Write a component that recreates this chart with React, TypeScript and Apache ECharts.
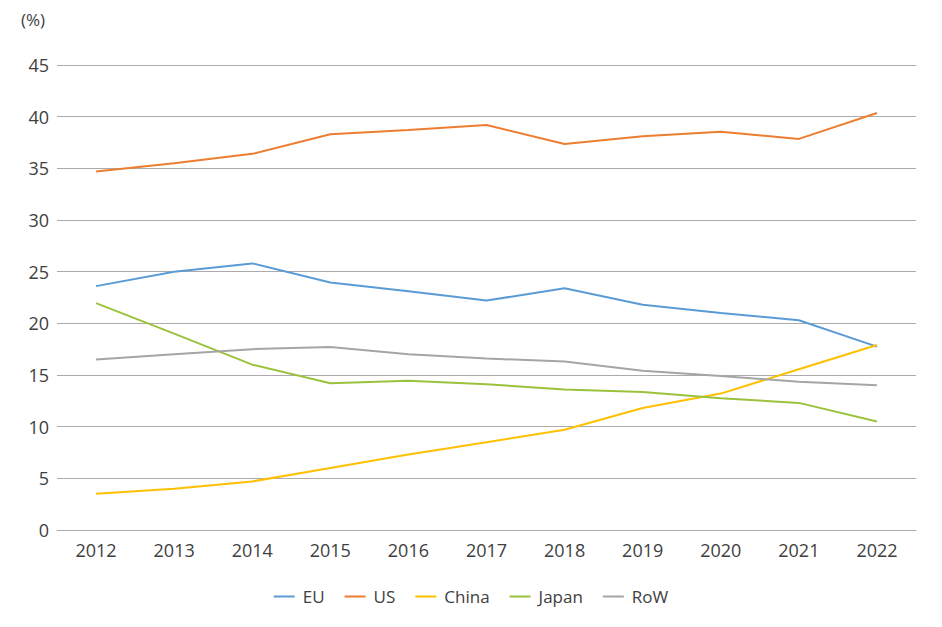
import React, { useEffect, useRef } from "react";
import * as echarts from "echarts";

const years = ["2012", "2013", "2014", "2015", "2016", "2017", "2018", "2019", "2020", "2021", "2022"];
const eu = [23.6, 25.0, 25.8, 23.95, 23.1, 22.2, 23.4, 21.8, 21.0, 20.3, 17.75];
const us = [34.7, 35.5, 36.4, 38.3, 38.7, 39.2, 37.35, 38.1, 38.55, 37.85, 40.35];
const china = [3.5, 4.0, 4.7, 6.0, 7.3, 8.5, 9.7, 11.8, 13.2, 15.55, 17.9];
const japan = [21.95, 19.0, 16.0, 14.2, 14.45, 14.1, 13.6, 13.35, 12.75, 12.3, 10.5];
const row = [16.5, 17.0, 17.5, 17.7, 17.0, 16.6, 16.3, 15.4, 14.9, 14.35, 14.0];

const seriesNames = ["EU", "US", "China", "Japan", "RoW"];
const seriesData = [eu, us, china, japan, row];
const colors = ["#5B9BD5", "#ED7D31", "#FFC000", "#9BC23C", "#A5A5A5"];

const font = "'Open Sans', 'Noto Sans', sans-serif";
const textColor = "#404040";

export default function App() {
  const ref = useRef<HTMLDivElement>(null);
  useEffect(() => {
    if (!ref.current) return;
    const chart = echarts.init(ref.current, undefined, { renderer: "svg" });
    chart.setOption({
      animation: false,
      grid: { left: 49, right: 18, top: 57, bottom: 89 },
      graphic: [
        {
          type: "text",
          left: 13,
          top: 3,
          style: { text: "(%)", fontSize: 17, fontFamily: font, fill: textColor },
        },
      ],
      legend: {
        bottom: 9,
        left: "center",
        icon: "rect",
        itemWidth: 21,
        itemHeight: 2,
        itemGap: 20,
        textStyle: { fontSize: 17, fontFamily: font, color: textColor, padding: [0, 0, 0, 3] },
        data: seriesNames,
      },
      xAxis: {
        type: "category",
        data: years,
        boundaryGap: true,
        axisLine: { lineStyle: { color: "#ABABAB", width: 1 } },
        axisTick: { show: false },
        axisLabel: { fontSize: 18, fontFamily: font, color: textColor, margin: 11 },
      },
      yAxis: {
        type: "value",
        min: 0,
        max: 45,
        interval: 5,
        axisLine: { show: false },
        axisTick: { show: false },
        axisLabel: { fontSize: 18, fontFamily: font, color: textColor, margin: 8 },
        splitLine: { lineStyle: { color: "#ABABAB", width: 1 } },
      },
      series: seriesNames.map((name, i) => ({
        name,
        type: "line",
        data: seriesData[i],
        symbol: "none",
        lineStyle: { color: colors[i], width: 2 },
        itemStyle: { color: colors[i] },
      })),
    });
    return () => chart.dispose();
  }, []);
  return <div ref={ref} style={{ width: 926, height: 611 }} />;
}
